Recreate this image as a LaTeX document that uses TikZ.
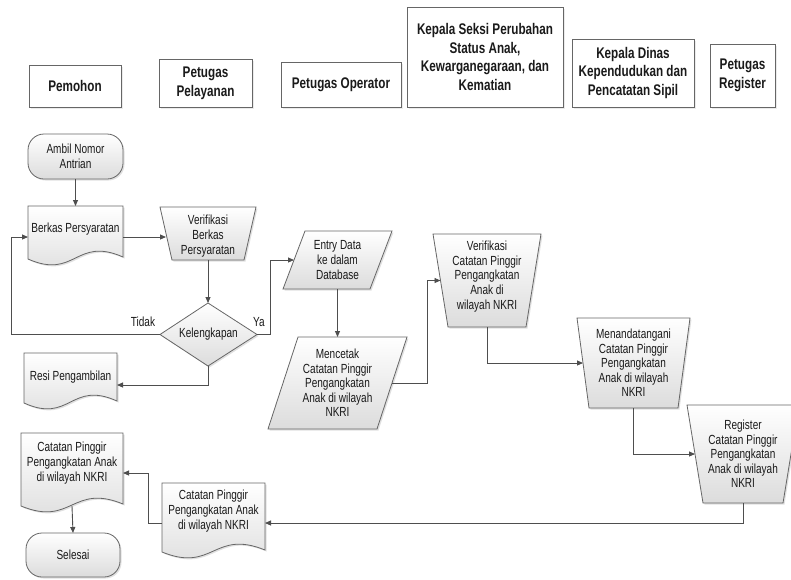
\documentclass[tikz,border=0pt]{standalone}
\usepackage{fontspec}
\setmainfont[FakeStretch=0.76]{Liberation Sans}
\usetikzlibrary{arrows.meta,shadows}
\definecolor{linec}{HTML}{4E4E4E}
\definecolor{edgec}{HTML}{666666}
\definecolor{fillbot}{HTML}{DCDCDC}
\definecolor{txtc}{HTML}{1A1A1A}
\tikzset{
  flowshape/.style={draw=edgec, line width=0.8pt, top color=white, bottom color=fillbot,
    drop shadow={fill=black, opacity=0.12, shadow xshift=1.5pt, shadow yshift=-1.5pt}},
  bodytxt/.style={align=center, inner sep=0pt, text=txtc, font=\fontsize{13.2}{14.6}\selectfont},
  hdr/.style={draw=edgec, line width=1pt, fill=white, align=center, inner sep=0pt, text=txtc,
    font=\fontsize{15.4}{18.8}\selectfont\bfseries,
    drop shadow={fill=black, opacity=0.08, shadow xshift=1.5pt, shadow yshift=-1.5pt}},
  conn/.style={draw=linec, line width=0.9pt, -{Triangle[length=6pt,width=5pt]}}
}
% #1 text y shift, #2 name, #3 TLx, #4 TRx, #5 BLx, #6 BRx, #7 top y, #8 bottom y, #9 text
\newcommand\quadbox[9][0]{%
  \path[flowshape] (#3,#7) -- (#4,#7) -- (#6,#8) -- (#5,#8) -- cycle;
  \node[bodytxt] (#2) at ({(#3+#4+#5+#6)/4},{(#7+#8)/2+#1}) {#9};
  \coordinate (#2-n) at ({(#3+#4)/2},#7);
  \coordinate (#2-s) at ({(#5+#6)/2},#8);
  \coordinate (#2-w) at ({(#3+#5)/2},{(#7+#8)/2});
  \coordinate (#2-e) at ({(#4+#6)/2},{(#7+#8)/2});
}
% #1 name, #2 x1, #3 x2, #4 top, #5 wave mid y, #6 text y, #7 connector y, #8 text
\newcommand\docbox[8]{%
  \path[flowshape] (#2,#4) -- (#3,#4) -- (#3,{#5-2})
     .. controls ({(#2+#3)/2},{#5-23}) and ({(#2+#3)/2},{#5+21}) .. (#2,#5) -- cycle;
  \node[bodytxt] (#1) at ({(#2+#3)/2},#6) {#8};
  \coordinate (#1-n) at ({(#2+#3)/2},#4);
  \coordinate (#1-s) at ({(#2+#3)/2},#5);
  \coordinate (#1-w) at (#2,#7);
  \coordinate (#1-e) at (#3,#7);
}
% #1 name, #2 x1, #3 x2, #4 top, #5 bottom, #6 text
\newcommand\termbox[6]{%
  \path[flowshape, rounded corners=16pt] (#2,#4) rectangle (#3,#5);
  \node[bodytxt] (#1) at ({(#2+#3)/2},{(#4+#5)/2}) {#6};
  \coordinate (#1-n) at ({(#2+#3)/2},#4);
  \coordinate (#1-s) at ({(#2+#3)/2},#5);
}
\begin{document}
\begin{tikzpicture}[x=1pt,y=-1pt]
\useasboundingbox (0,0) rectangle (791,579);
\clip (0,0) rectangle (791,579);
\fill[white] (0,0) rectangle (791,579);

% headers
\node[hdr, minimum width=92pt, minimum height=42pt] (hPemohon) at (75,86) {Pemohon};
\node[hdr, minimum width=93pt, minimum height=48pt] (hPelayanan) at (205.5,83) {Petugas\\Pelayanan};
\node[hdr, minimum width=120pt, minimum height=45pt] (hOperator) at (341,84.5) {Petugas Operator};
\node[hdr, minimum width=156pt, minimum height=100pt] (hSeksi) at (485,57) {Kepala Seksi Perubahan\\Status Anak,\\Kewarganegaraan, dan\\Kematian};
\node[hdr, minimum width=122pt, minimum height=68pt] (hDinas) at (633,73) {Kepala Dinas\\Kependudukan dan\\Pencatatan Sipil};
\node[hdr, minimum width=65pt, minimum height=63pt] (hRegister) at (742.5,75.5) {Petugas\\Register};

% flow shapes
\termbox{ambil}{28}{123}{134}{179}{Ambil Nomor\\Antrian}
\docbox{berkas}{28}{123}{206}{259}{229}{237}{Berkas Persyaratan}
\quadbox[2.5]{verB}{160}{256}{172}{244}{207}{260}{Verifikasi\\Berkas\\Persyaratan}
\path[flowshape] (208,303) -- (257,334.5) -- (208,366) -- (160,334.5) -- cycle;
\node[bodytxt] (dia) at (208.5,334) {Kelengkapan};
\coordinate (dia-n) at (208,303);
\coordinate (dia-s) at (208,366);
\coordinate (dia-w) at (160,334.5);
\coordinate (dia-e) at (257,334.5);
\node[bodytxt] (tTidak) at (143,322) {Tidak};
\node[bodytxt] (tYa) at (259,322) {Ya};
\docbox{resi}{24}{117}{353}{403}{377}{385}{Resi Pengambilan}
\quadbox{entry}{305}{392}{283}{370}{231}{289}{Entry Data\\ke dalam\\Database}
\quadbox{cetak}{298}{407}{268}{377}{337}{429}{Mencetak\\Catatan Pinggir\\Pengangkatan\\Anak di wilayah\\NKRI}
\quadbox[-4]{verC}{433}{541}{448}{526}{234}{327}{Verifikasi\\Catatan Pinggir\\Pengangkatan\\Anak di\\wilayah NKRI}
\quadbox{ttd}{577}{690}{589}{678}{318}{408}{Menandatangani\\Catatan Pinggir\\Pengangkatan\\Anak di wilayah\\NKRI}
\quadbox{reg}{687}{799}{703}{783}{405}{503}{Register\\Catatan Pinggir\\Pengangkatan\\Anak di wilayah\\NKRI}
\docbox{catB}{162}{265}{483}{552}{511}{523}{Catatan Pinggir\\Pengangkatan Anak\\di wilayah NKRI}
\docbox{catA}{21}{123}{433}{506}{463}{473}{Catatan Pinggir\\Pengangkatan Anak\\di wilayah NKRI}
\termbox{selesai}{26}{120}{533}{577}{Selesai}

% corner coordinates
\coordinate (loopL) at (11,0);
\coordinate (yaX) at (270,0);
\coordinate (cX) at (427,0);
\coordinate (bX) at (148,0);

% connectors
\draw[conn] (ambil-s) -- (berkas-n);
\draw[conn] (berkas-e) -- (berkas-e -| verB-w);
\draw[conn] (verB-s) -- (dia-n);
\draw[conn] (dia-w) -- (dia-w -| loopL) -- (loopL |- berkas-w) -- (berkas-w);
\draw[conn] (dia-e) -- (dia-e -| yaX) -- (yaX |- entry-w) -- (entry-w);
\draw[conn] (dia-s) |- (resi-e);
\draw[conn] (entry.center |- entry-s) -- (entry.center |- cetak-n);
\draw[conn] (cetak-e) -- (cetak-e -| cX) -- (cX |- verC-w) -- (verC-w);
\draw[conn] (verC-s) |- (ttd-w);
\draw[conn] (ttd-s) |- (reg-w);
\draw[conn] (reg-s) |- (catB-e);
\draw[conn] (catB-w) -- (catB-w -| bX) -- (bX |- catA-e) -- (catA-e);
\draw[conn] (catA-s) -- (selesai-n);
\end{tikzpicture}
\end{document}
